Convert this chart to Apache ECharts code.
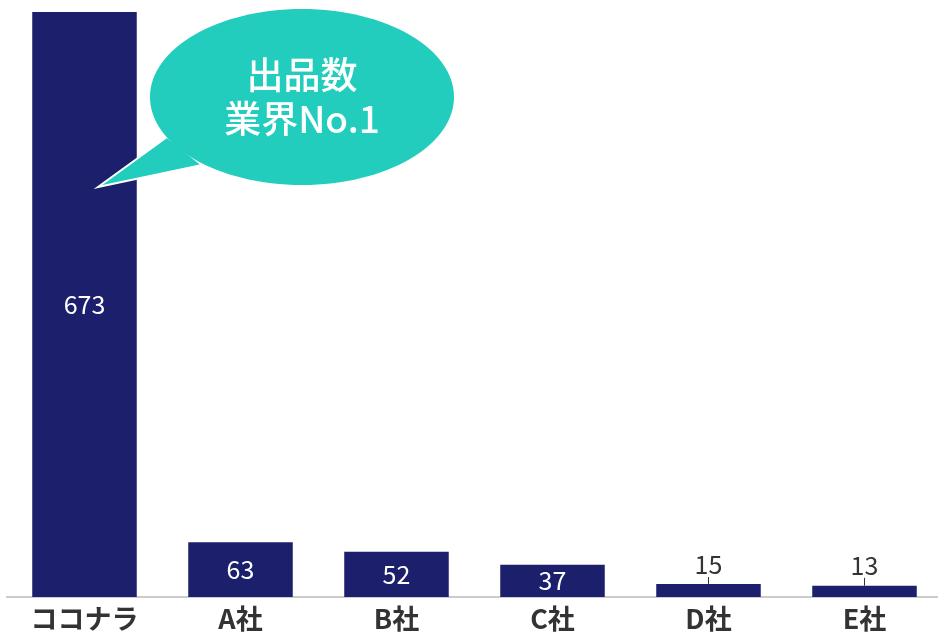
<!DOCTYPE html>
<html>
<head>
    <meta charset="UTF-8">
    <title>出品数</title>
    <style>
        html, body { margin: 0; padding: 0; background: #fff; overflow: hidden; }
        #main { width: 944px; height: 632px; }
    </style>
</head>
<body>
<div id="main"></div>
<script src="https://cdn.jsdelivr.net/npm/echarts@6/dist/echarts.min.js"></script>
<script>
    var categories = ['ココナラ', 'A社', 'B社', 'C社', 'D社', 'E社'];
    var values = [673, 63, 52, 37, 15, 13];
    // 小さいバーはラベルを上に出す
    var outsideLabel = [false, false, false, false, true, true];

    var navy = '#1b1f6c';
    var teal = '#23cdbd';
    var font = '"Noto Sans CJK JP", "Noto Sans", sans-serif';

    var barData = [];
    for (var i = 0; i < values.length; i++) {
        var item = { value: values[i] };
        if (outsideLabel[i]) {
            item.label = { color: '#333' };
            item.labelLine = { show: true, lineStyle: { color: '#333', width: 1 } };
        }
        barData.push(item);
    }

    var myChart = echarts.init(document.getElementById('main'));
    var option = {
        animation: false,
        grid: { left: 6.5, right: 1.5, top: 12, bottom: 33 },
        xAxis: {
            type: 'category',
            data: categories,
            axisLine: { lineStyle: { color: '#bbbbbb', width: 1.5 } },
            axisTick: { show: false },
            axisLabel: {
                color: '#333',
                fontSize: 27,
                fontWeight: 'bold',
                fontFamily: font,
                margin: 8
            }
        },
        yAxis: {
            type: 'value',
            min: 0,
            max: 673,
            show: false
        },
        series: [{
            type: 'bar',
            barWidth: '67%',
            data: barData,
            itemStyle: { color: navy },
            label: {
                show: true,
                position: 'inside',
                offset: [0, 2],
                color: '#fff',
                fontSize: 25,
                fontFamily: font
            },
            labelLine: { show: false },
            labelLayout: function (params) {
                if (outsideLabel[params.dataIndex]) {
                    return { dy: -26 };
                }
                return {};
            }
        }],
        graphic: [
            {
                type: 'polygon',
                shape: { points: [[167, 137], [202, 165], [98, 187]] },
                style: { fill: teal, stroke: '#fff', lineWidth: 2 },
                z: 100
            },
            {
                type: 'ellipse',
                shape: { cx: 302, cy: 97, rx: 152, ry: 88 },
                style: { fill: teal },
                z: 101
            },
            {
                type: 'text',
                x: 302,
                y: 97,
                style: {
                    text: '出品数\n業界No.1',
                    fill: '#fff',
                    fontSize: 37,
                    lineHeight: 44,
                    fontWeight: 500,
                    fontFamily: font,
                    align: 'center',
                    verticalAlign: 'middle'
                },
                z: 102
            }
        ]
    };
    myChart.setOption(option);
</script>
</body>
</html>
